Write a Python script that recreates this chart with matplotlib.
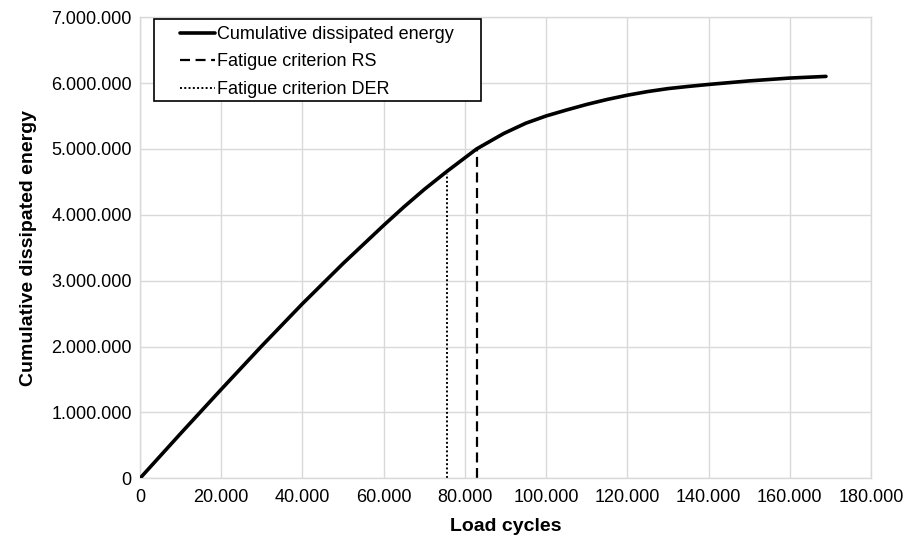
import matplotlib
matplotlib.use("Agg")
import matplotlib.pyplot as plt
from matplotlib.patches import Rectangle
from matplotlib.ticker import FuncFormatter, MultipleLocator

# values
cycles = [0, 10000, 20000, 30000, 40000, 50000, 60000, 65000, 70000, 75600, 82900,
          89600, 95000, 100000, 105000, 110000, 115000, 120000, 125000, 130000,
          135000, 140000, 150000, 160000, 168900]
energy = [0, 680000, 1350000, 2010000, 2650000, 3260000, 3840000, 4120000, 4385000, 4660000, 5000000,
          5235000, 5390000, 5500000, 5590000, 5675000, 5750000, 5815000, 5870000, 5915000,
          5948000, 5978000, 6032000, 6075000, 6100000]

der_cycles = 75600
der_energy = 4620000
rs_cycles = 82900
rs_energy = 5000000

labels = ["Cumulative dissipated energy", "Fatigue criterion RS", "Fatigue criterion DER"]


def dot_thousands(v, pos):
    return f"{int(round(v)):,}".replace(",", ".")


plt.rcParams["font.family"] = ["Liberation Sans", "DejaVu Sans"]

W, H = 908, 535
fig = plt.figure(figsize=(W / 100, H / 100), dpi=100)
ax = fig.add_axes([0.1542, 0.106, 0.8051, 0.862])

grid_c = "#d9d9d9"
ax.plot(cycles, energy, color="black", lw=2.6, solid_capstyle="round",
        solid_joinstyle="round", label=labels[0], zorder=3)
ax.plot([rs_cycles, rs_cycles], [0, rs_energy], color="black", lw=1.6,
        linestyle=(0, (4.5, 2.5)), label=labels[1], zorder=2)
ax.plot([der_cycles, der_cycles], [0, der_energy], color="black", lw=1.4,
        linestyle=(0, (1, 1.2)), label=labels[2], zorder=2)

ax.set_xlim(0, 180000)
ax.set_ylim(0, 7000000)
ax.xaxis.set_major_locator(MultipleLocator(20000))
ax.yaxis.set_major_locator(MultipleLocator(1000000))
ax.xaxis.set_major_formatter(FuncFormatter(dot_thousands))
ax.yaxis.set_major_formatter(FuncFormatter(dot_thousands))
ax.tick_params(length=0, labelsize=13)
ax.tick_params(axis="y", pad=6)
ax.tick_params(axis="x", pad=8)

ax.grid(True, color=grid_c, lw=1)
ax.set_axisbelow(True)
for s in ax.spines.values():
    s.set_color(grid_c)
    s.set_linewidth(1)

ax.set_xlabel("Load cycles", fontsize=14, fontweight="bold", labelpad=8)
ax.set_ylabel("Cumulative dissipated energy", fontsize=14, fontweight="bold", labelpad=10)

# legend box drawn by hand: wide side padding like the original
box = Rectangle((154 / W, 1 - 101 / H), 327 / W, 82 / H, transform=fig.transFigure,
                facecolor="white", edgecolor="black", lw=1.2, zorder=4)
fig.patches.append(box)
leg = fig.legend(loc="upper left", bbox_to_anchor=(180 / W, 1 - 26 / H), fontsize=13,
                 frameon=False, handlelength=1.95, handletextpad=0.1,
                 borderpad=0, labelspacing=0.58, borderaxespad=0)
leg.set_zorder(5)

fig.savefig("out.png", dpi=100)
